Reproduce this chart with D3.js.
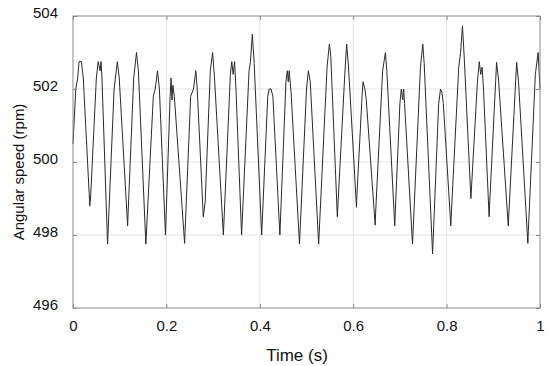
<!DOCTYPE html>
<html>
<script src="https://d3js.org/d3.v7.min.js"></script>
<style>
    body { margin: 0; background: #fff; }
    text { font-family: "Liberation Sans", Arial, sans-serif; fill: #111; }
</style>
<body>
<svg width="550" height="366"></svg>
<script>
    // vertices, one line per cycle (time in s, speed in rpm)
    var times = [
        0.000, 0.006, 0.010, 0.013, 0.018, 0.022,
        0.036, 0.038, 0.050, 0.054, 0.058, 0.060, 0.062,
        0.074, 0.088, 0.095, 0.099,
        0.117, 0.118, 0.130, 0.136, 0.140,
        0.156, 0.172, 0.176, 0.181, 0.185,
        0.198, 0.208, 0.210, 0.212, 0.214, 0.217,
        0.239, 0.240, 0.252, 0.258, 0.263, 0.266,
        0.279, 0.283, 0.294, 0.299, 0.303,
        0.322, 0.337, 0.340, 0.343, 0.346, 0.349,
        0.361, 0.377, 0.380, 0.384, 0.388,
        0.404, 0.417, 0.420, 0.424, 0.428,
        0.443, 0.456, 0.459, 0.461, 0.463, 0.467,
        0.485, 0.500, 0.504, 0.508,
        0.526, 0.544, 0.549, 0.552,
        0.566, 0.582, 0.586, 0.590,
        0.607, 0.608, 0.619, 0.621, 0.625, 0.628,
        0.647, 0.648, 0.663, 0.669, 0.672,
        0.689, 0.690, 0.700, 0.703, 0.706, 0.708, 0.710,
        0.727, 0.744, 0.749, 0.752,
        0.770, 0.783, 0.787, 0.790, 0.793,
        0.809, 0.810, 0.826, 0.830, 0.834, 0.838,
        0.852, 0.866, 0.870, 0.873, 0.876, 0.879,
        0.891, 0.892, 0.905, 0.907, 0.911,
        0.932, 0.947, 0.950, 0.954,
        0.974, 0.975, 0.990, 0.996, 1.000];
    var speeds = [
        500.5, 502.0, 502.3, 502.75, 502.75, 502.3,
        498.8, 499.1, 502.3, 502.75, 502.5, 502.75, 502.3,
        497.75, 502.0, 502.75, 502.3,
        498.25, 498.6, 502.3, 503.0, 502.5,
        497.75, 501.8, 502.0, 502.5, 502.0,
        498.0, 501.8, 502.3, 501.7, 502.1, 501.8,
        497.77, 498.1, 501.8, 502.0, 502.5, 502.0,
        498.5, 498.9, 502.5, 503.0, 502.3,
        498.0, 502.4, 502.75, 502.4, 502.75, 502.0,
        498.0, 502.5, 502.75, 503.5, 502.7,
        498.0, 501.8, 502.0, 502.0, 501.8,
        498.0, 502.2, 502.5, 502.2, 502.5, 501.9,
        497.75, 502.0, 502.5, 502.2,
        497.75, 502.6, 503.23, 502.9,
        498.5, 502.4, 503.23, 502.6,
        498.76, 499.1, 501.8, 502.2, 502.0, 501.7,
        498.27, 498.6, 502.5, 503.0, 502.5,
        498.25, 498.6, 501.6, 502.0, 501.7, 502.0, 501.6,
        497.75, 502.6, 503.23, 502.7,
        497.48, 501.6, 502.0, 501.9, 501.6,
        498.25, 498.55, 502.6, 503.0, 503.73, 502.8,
        499.0, 502.2, 502.75, 502.4, 502.6, 502.0,
        498.5, 498.8, 502.2, 502.73, 502.3,
        498.25, 502.0, 502.73, 502.2,
        497.77, 498.1, 502.4, 503.0, 502.0];
    var xTicks = [0, 0.2, 0.4, 0.6, 0.8, 1];
    var yTicks = [496, 498, 500, 502, 504];

    var mLeft = 73, mRight = 540, mTop = 16, mBottom = 308;
    var svg = d3.select('svg');

    var x = d3.scaleLinear().domain([0, 1]).range([mLeft, mRight]);
    var y = d3.scaleLinear().domain([496, 504]).range([mBottom, mTop]);

    // grid
    svg.append('g').selectAll('line').data(xTicks.slice(1, -1)).enter().append('line')
        .attr('x1', d => x(d)).attr('x2', d => x(d))
        .attr('y1', mTop).attr('y2', mBottom)
        .attr('stroke', '#e4e4e4').attr('stroke-width', 1);
    svg.append('g').selectAll('line').data(yTicks.slice(1, -1)).enter().append('line')
        .attr('x1', mLeft).attr('x2', mRight)
        .attr('y1', d => y(d)).attr('y2', d => y(d))
        .attr('stroke', '#e4e4e4').attr('stroke-width', 1);

    // signal
    var pts = times.map((t, i) => [t, speeds[i]]);
    svg.append('path')
        .datum(pts)
        .attr('fill', 'none')
        .attr('stroke', '#2a2a2a')
        .attr('stroke-width', 1)
        .attr('d', d3.line().x(d => x(d[0])).y(d => y(d[1])));

    // box with inward ticks
    svg.append('rect').attr('x', mLeft).attr('y', mTop)
        .attr('width', mRight - mLeft).attr('height', mBottom - mTop)
        .attr('fill', 'none').attr('stroke', '#8a8a8a').attr('stroke-width', 1);

    var xa = svg.append('g').attr('transform', 'translate(0,' + mBottom + ')')
        .call(d3.axisBottom(x).tickValues(xTicks).tickSize(-4).tickPadding(9).tickFormat(d3.format('')));
    var ya = svg.append('g').attr('transform', 'translate(' + mLeft + ',0)')
        .call(d3.axisLeft(y).tickValues(yTicks).tickSize(-4).tickPadding(15));
    svg.append('g').attr('transform', 'translate(0,' + mTop + ')')
        .call(d3.axisTop(x).tickValues(xTicks).tickSize(-4).tickFormat(''));
    svg.append('g').attr('transform', 'translate(' + mRight + ',0)')
        .call(d3.axisRight(y).tickValues(yTicks).tickSize(-4).tickFormat(''));

    svg.selectAll('.domain').remove();
    svg.selectAll('.tick line').attr('stroke', '#8a8a8a');
    svg.selectAll('.tick text').style('font-size', '15px').style('font-family', '"Liberation Sans", Arial, sans-serif').attr('fill', '#111');
    ya.selectAll('.tick text').attr('dy', '0.12em');
    xa.selectAll('.tick text').attr('dy', '0.9em');

    svg.append('text')
        .attr('x', 297).attr('y', 361)
        .attr('text-anchor', 'middle')
        .style('font-size', '17px')
        .text('Time (s)');

    svg.append('text')
        .attr('transform', 'translate(24,172) rotate(-90)')
        .attr('text-anchor', 'middle')
        .style('font-size', '15px')
        .text('Angular speed (rpm)');
</script>
</body>
</html>
